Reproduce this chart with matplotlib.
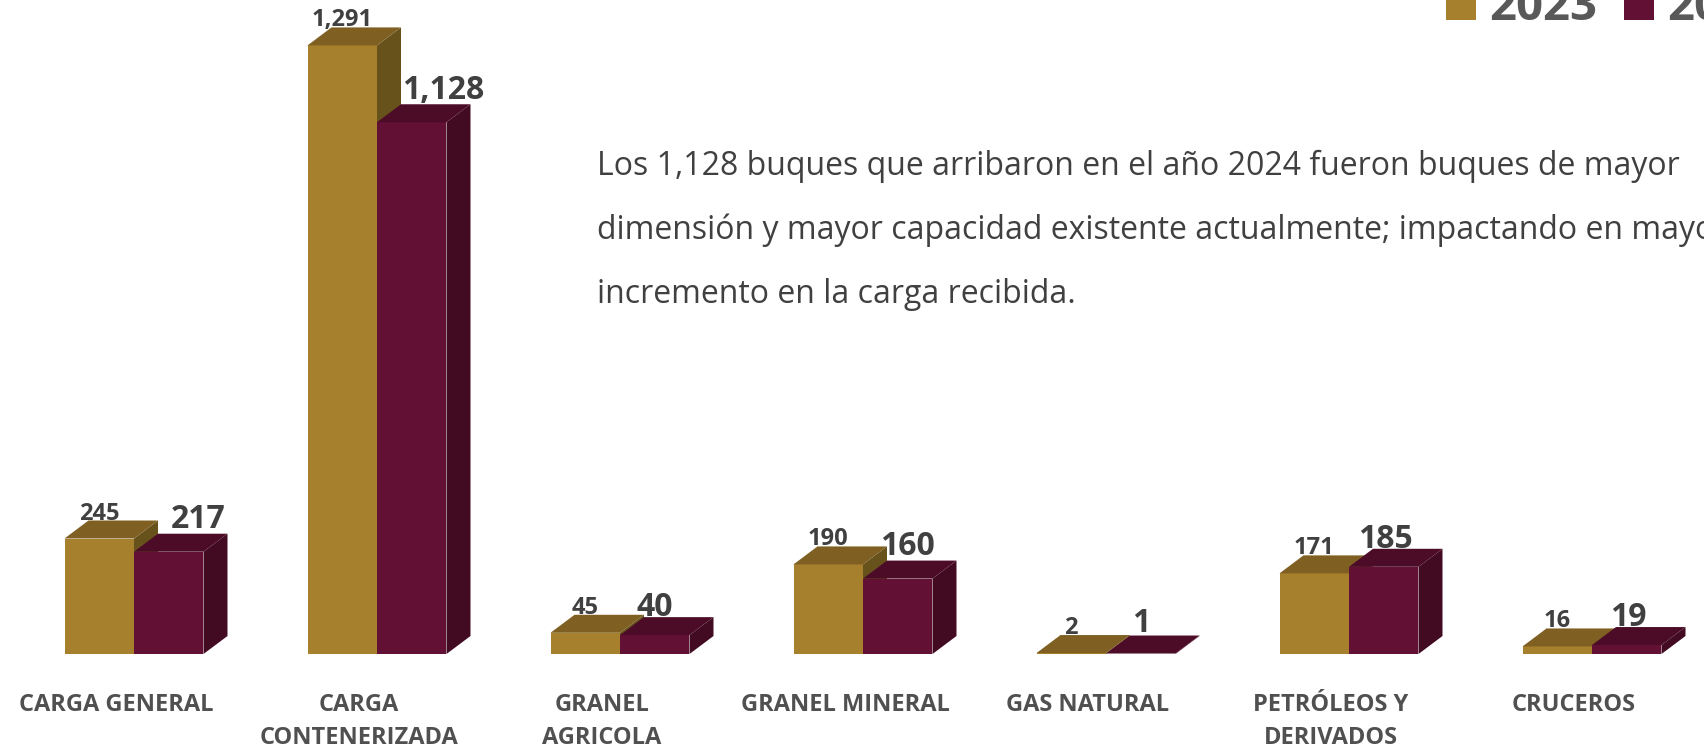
import matplotlib.pyplot as plt
import matplotlib.transforms as mtransforms
from matplotlib.patches import Polygon, Rectangle, Arc

plt.rcParams['font.family'] = ['Open Sans', 'DejaVu Sans']

# data
categorias = ['CARGA GENERAL', 'CARGA\nCONTENERIZADA', 'GRANEL\nAGRICOLA', 'GRANEL MINERAL',
              'GAS NATURAL', 'PETRÓLEOS Y\nDERIVADOS', 'CRUCEROS']
buques_2023 = [245, 1291, 45, 190, 2, 171, 16]
buques_2024 = [217, 1128, 40, 160, 1, 185, 19]
anios = ['2023', '2024']
nota = ['Los 1,128 buques que arribaron en el año 2024 fueron buques de mayor',
        'dimensión y mayor capacidad existente actualmente; impactando en mayor',
        'incremento en la carga recibida.']

# colours: front, top, side
oro = ('#a6802c', '#7f6022', '#68521c')
vino = ('#621034', '#4c0c28', '#420b22')
txt = '#404040'

W, H = 1704, 751
fig = plt.figure(figsize=(W / 100, H / 100), dpi=100)
fig.patch.set_facecolor('white')
ax = fig.add_axes([0, 0, 1, 1])
ax.set_axis_off()

# layout in pixels
base_px = 654      # baseline of bars
scale = 0.4714     # px per buque
step = 243         # px between groups
x0_px = 134        # centre of first group
ax.set_xlim(-x0_px / step, (W - x0_px) / step)
ax.set_ylim(-(H - base_px) / scale, base_px / scale)

# pixel transform, y measured from top
pix = mtransforms.Affine2D().scale(1, -1).translate(0, H)

# faint background swirl
for cx, cy, r in [(620, 980, 560), (620, 980, 700), (620, 980, 840), (-150, 320, 420), (-150, 320, 560)]:
    fig.add_artist(Arc((cx, cy), 2 * r, 2 * r, theta1=90, theta2=200, transform=pix,
                       color='#f4f4f4', lw=28, zorder=0))

bw = 0.286
ddx = 24 / step
ddy = 18 / scale


def barra(x, v, cols, z):
    ax.bar(x, v, width=bw, align='edge', color=cols[0], zorder=z, lw=0)
    xr = x + bw
    ax.add_patch(Polygon([(xr, 0), (xr + ddx, ddy), (xr + ddx, v + ddy), (xr, v)],
                         closed=True, fc=cols[2], lw=0, zorder=z + 0.5))
    ax.add_patch(Polygon([(x, v), (x + ddx, v + ddy), (xr + ddx, v + ddy), (xr, v)],
                         closed=True, fc=cols[1], lw=0, zorder=z + 0.5))


# label nudges for 2024 values (px right, px up)
nudge = [(29, 6), (31, 5), (0, 1), (10, 6), (0, 4), (2, 1), (2, 1)]

for i, (a, b) in enumerate(zip(buques_2023, buques_2024)):
    barra(i - bw, a, oro, 2)
    barra(i, b, vino, 4)
    ax.text(i - bw / 2, a + ddy + 1 / scale, f'{a:,}', ha='center', va='baseline',
            fontsize=17, fontweight='bold', color=txt, zorder=10)
    dx, dy = nudge[i]
    ax.text(i + bw / 2 + dx / step, b + ddy + dy / scale, f'{b:,}', ha='center', va='baseline',
            fontsize=23, fontweight='bold', color=txt, zorder=10)
    for k, linea in enumerate(categorias[i].split('\n')):
        ax.text(i - 18 / step, -(711 - base_px + 33 * k) / scale, linea, ha='center',
                va='baseline', fontsize=17, fontweight='bold', color='#505050')

# note
for k, linea in enumerate(nota):
    fig.text(597, 175 + 64 * k, linea, transform=pix, fontsize=23, color=txt, va='baseline')

# legend, cut at the top edge like the original
for (xs, col, lab) in [(1446, oro[0], anios[0]), (1624, vino[0], anios[1])]:
    fig.add_artist(Rectangle((xs, -10), 30, 30, transform=pix, fc=col, lw=0))
    fig.text(xs + 43, 20, lab, transform=pix, fontsize=34, fontweight='bold',
             color='#595959', va='baseline')

fig.savefig('out.png', dpi=100)
